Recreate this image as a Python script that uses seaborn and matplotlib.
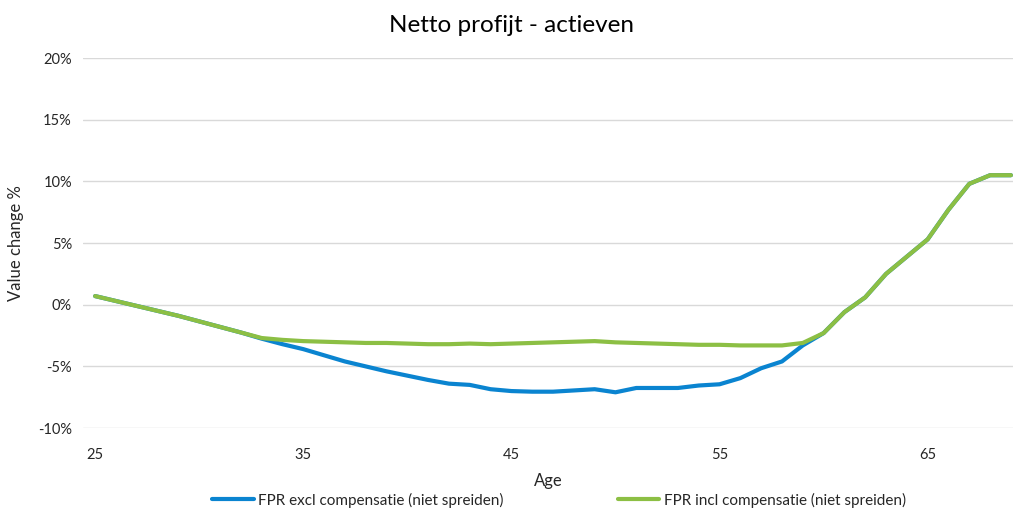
"""
Netto profijt - actieven: value change per age, excl vs incl compensatie
"""

import matplotlib
matplotlib.use('Agg')
import matplotlib.pyplot as plt
from matplotlib.ticker import FuncFormatter
import numpy as np
import pandas as pd
import seaborn as sns

# Data (% value change)
ages = list(range(25, 70))

excl_comp = [0.7, 0.3, -0.1, -0.5, -0.9, -1.35, -1.8, -2.25, -2.75,
             -3.2, -3.6, -4.1, -4.6, -5.0, -5.4, -5.75, -6.1, -6.4, -6.5,
             -6.85, -7.0, -7.05, -7.05, -6.95, -6.85, -7.1, -6.75, -6.75, -6.75,
             -6.55, -6.45, -5.95, -5.15, -4.6, -3.3, -2.3,
             -0.6, 0.6, 2.5, 3.9, 5.3, 7.7, 9.8, 10.5, 10.5]

incl_comp = [0.7, 0.3, -0.1, -0.5, -0.9, -1.35, -1.8, -2.25, -2.7,
             -2.85, -2.95, -3.0, -3.05, -3.1, -3.1, -3.15, -3.2, -3.2, -3.15,
             -3.2, -3.15, -3.1, -3.05, -3.0, -2.95, -3.05, -3.1, -3.15, -3.2,
             -3.25, -3.25, -3.3, -3.3, -3.3, -3.1, -2.3,
             -0.6, 0.6, 2.5, 3.9, 5.3, 7.7, 9.8, 10.5, 10.5]

series_names = ['FPR excl compensatie (niet spreiden)', 'FPR incl compensatie (niet spreiden)']
series_colors = ['#0A84D0', '#8CBF44']
x_ticks = [25, 35, 45, 55, 65]
y_ticks = [-10, -5, 0, 5, 10, 15, 20]

df = pd.concat([
    pd.DataFrame({'Age': ages, 'value': excl_comp, 'series': series_names[0]}),
    pd.DataFrame({'Age': ages, 'value': incl_comp, 'series': series_names[1]}),
])

sns.set_style('white')
plt.rcParams['font.family'] = ['Lato', 'DejaVu Sans']

fig = plt.figure(figsize=(10.13, 5.09), dpi=100)
ax = fig.add_axes([0.082, 0.159, 0.918, 0.727])

sns.lineplot(data=df, x='Age', y='value', hue='series',
             palette=dict(zip(series_names, series_colors)),
             linewidth=3, ax=ax, legend=True)

# Grid & axes
ax.set_ylim(-10, 20)
ax.set_xlim(24.42, 69.1)
ax.set_yticks(y_ticks)
ax.set_xticks(x_ticks)
ax.yaxis.set_major_formatter(FuncFormatter(lambda v, _: f'{int(v)}%'))
ax.grid(axis='y', color='#D9D9D9', linewidth=1)
ax.set_axisbelow(True)
for s in ax.spines.values():
    s.set_visible(False)
ax.tick_params(axis='both', length=0, labelsize=10.5, colors='#262626', pad=8)
ax.tick_params(axis='x', pad=14)

ax.set_xlabel('Age', fontsize=12, color='#262626', labelpad=8)
ax.set_ylabel('Value change %', fontsize=12, color='#262626', labelpad=10)
fig.suptitle('Netto profijt - actieven', fontsize=17.5, y=0.97, x=0.505, color='black')

handles, labels = ax.get_legend_handles_labels()
ax.legend(handles, labels, loc='center', bbox_to_anchor=(0.512, -0.195),
          ncol=2, frameon=False, fontsize=11, handlelength=2.7,
          columnspacing=7.5, handletextpad=0.3, labelcolor='#262626',
          borderpad=0.1)

fig.savefig('out.png', dpi=100)
